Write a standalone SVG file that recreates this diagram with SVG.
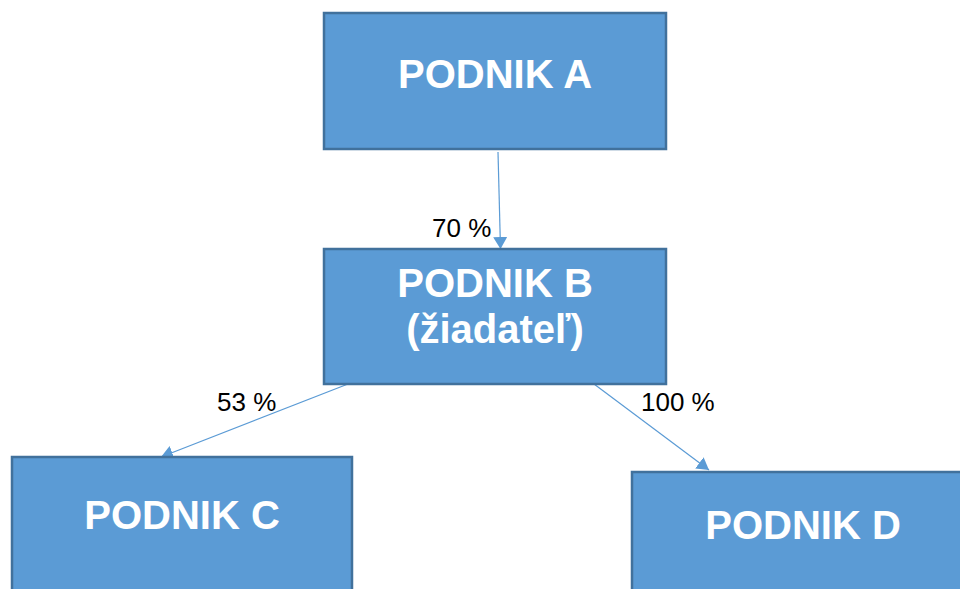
<svg xmlns="http://www.w3.org/2000/svg" width="960" height="589" viewBox="0 0 960 589">
<defs>
<marker id="ah" viewBox="0 0 12 14" refX="12" refY="7" markerWidth="12" markerHeight="14" markerUnits="userSpaceOnUse" orient="auto">
<path d="M0,0 L12,7 L0,14 Z" fill="#5B9BD5"/>
</marker>
</defs>
<style>
.box{fill:#5B9BD5;stroke:#41719C;stroke-width:2.5}
.bt{font-family:"Liberation Sans",Arial,sans-serif;font-weight:bold;font-size:40px;fill:#fff;text-anchor:middle}
.lbl{font-family:"Liberation Sans",Arial,sans-serif;font-size:26px;fill:#000}
.con{stroke:#5B9BD5;stroke-width:1.2;fill:none;marker-end:url(#ah)}
</style>
<rect width="960" height="589" fill="#fff"/>
<g id="connectors">
<line class="con" x1="498" y1="152" x2="500.5" y2="249"/>
<line class="con" x1="348" y1="384" x2="161" y2="457"/>
<line class="con" x1="594" y1="384" x2="709" y2="470"/>
</g>
<g id="nodeA">
<rect class="box" x="324" y="13" width="342" height="136"/>
<text class="bt" x="495" y="88">PODNIK A</text>
</g>
<g id="nodeB">
<rect class="box" x="324" y="249" width="342" height="135"/>
<text class="bt" x="495" y="297">PODNIK B</text>
<text class="bt" x="495" y="343">(žiadateľ)</text>
</g>
<g id="nodeC">
<rect class="box" x="12" y="457" width="340" height="140"/>
<text class="bt" x="182" y="529">PODNIK C</text>
</g>
<g id="nodeD">
<rect class="box" x="632" y="472" width="340" height="130"/>
<text class="bt" x="803" y="539">PODNIK D</text>
</g>
<g id="labels">
<text class="lbl" x="432" y="237">70 %</text>
<text class="lbl" x="217" y="411">53 %</text>
<text class="lbl" x="641" y="411">100 %</text>
</g>
</svg>
